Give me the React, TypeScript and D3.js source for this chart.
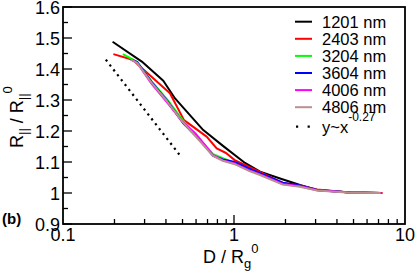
import React from 'react';
import * as d3 from 'd3';

const W = 415;
const H = 276;
const left = 63, right = 405, top = 7, bottom = 224;

// legend labels and colours
const seriesNames = ['1201 nm', '2403 nm', '3204 nm', '3604 nm', '4006 nm', '4806 nm'];
const seriesColors = ['#000000', '#ff0000', '#00ff00', '#0000ff', '#ff00ff', '#bc8f8f'];

// D / Rg0 and R|| / R||0
const x1201 = [0.195, 0.289, 0.386, 0.452, 0.661, 0.862, 1.16, 1.42, 1.86, 2.43, 3.06, 4.77, 7.3];
const y1201 = [1.488, 1.424, 1.362, 1.305, 1.203, 1.152, 1.097, 1.069, 1.047, 1.026, 1.01, 1.002, 1.0];

const x2403 = [0.197, 0.258, 0.276, 0.422, 0.51, 0.692, 0.792, 0.898, 1.01, 1.42, 1.93, 2.43, 3.06, 4.77, 7.4];
const y2403 = [1.448, 1.429, 1.413, 1.322, 1.235, 1.182, 1.144, 1.129, 1.106, 1.068, 1.032, 1.024, 1.011, 1.002, 1.0];

const x3204 = [0.224, 0.271, 0.33, 0.406, 0.503, 0.576, 0.754, 0.86, 1.01, 1.24, 1.42, 1.93, 2.43, 3.06, 4.77, 7.2];
const y3204 = [1.448, 1.423, 1.36, 1.302, 1.234, 1.196, 1.125, 1.112, 1.097, 1.075, 1.062, 1.03, 1.023, 1.01, 1.002, 1.0];

const x3604 = [0.25, 0.271, 0.33, 0.406, 0.503, 0.62, 0.754, 0.86, 1.01, 1.24, 1.42, 1.93, 2.43, 3.06, 4.77, 7.2];
const y3604 = [1.43, 1.423, 1.358, 1.298, 1.226, 1.176, 1.12, 1.108, 1.1, 1.078, 1.064, 1.033, 1.024, 1.01, 1.002, 1.0];

const x4006 = [0.25, 0.271, 0.33, 0.406, 0.503, 0.6, 0.754, 0.86, 1.01, 1.24, 1.42, 1.93, 2.43, 3.06, 4.77, 7.3];
const y4006 = [1.43, 1.42, 1.352, 1.292, 1.228, 1.19, 1.123, 1.105, 1.095, 1.072, 1.06, 1.029, 1.022, 1.009, 1.002, 1.0];

const x4806 = [0.25, 0.271, 0.33, 0.406, 0.503, 0.576, 0.754, 0.86, 1.01, 1.24, 1.42, 1.93, 2.43, 3.06, 4.77, 7.2];
const y4806 = [1.43, 1.42, 1.355, 1.296, 1.228, 1.192, 1.12, 1.104, 1.093, 1.07, 1.058, 1.027, 1.02, 1.008, 1.001, 1.0];

const seriesX = [x1201, x2403, x3204, x3604, x4006, x4806];
const seriesY = [y1201, y2403, y3204, y3604, y4006, y4806];

// guide line y ~ x^-0.27 (end points)
const guideX = [0.178, 0.49];
const guideY = [1.43, 1.117];

const xTickLabels = [0.1, 1, 10];
const yTickLabels = [0.9, 1, 1.1, 1.2, 1.3, 1.4, 1.5, 1.6];

const font = '"Liberation Sans", Arial, Helvetica, sans-serif';

export default function App() {
  const x = d3.scaleLog().domain([0.1, 10]).range([left, right]);
  const y = d3.scaleLinear().domain([0.9, 1.6]).range([bottom, top]);
  const line = d3.line<[number, number]>().x(d => x(d[0])).y(d => y(d[1]));

  const minorX: number[] = [];
  [0.1, 1].forEach(dec => {
    for (let k = 2; k <= 9; k++) minorX.push(dec * k);
  });
  const yTicks = d3.range(0, 15).map(i => 0.9 + i * 0.05);

  const legX = 295, legText = 322, legY0 = 21.7, legDy = 17.1;

  return (
    <svg width={W} height={H} style={{ position: 'absolute', left: 0, top: 0, background: '#fff' }}
      fontFamily={font}>
      <rect x={0} y={0} width={W} height={H} fill="#fff" />

      {/* curves */}
      {seriesX.map((xs, i) => (
        <path key={i} d={line(xs.map((v, j) => [v, seriesY[i][j]]) as [number, number][]) || ''}
          fill="none" stroke={seriesColors[i]} strokeWidth={2} strokeLinejoin="round" />
      ))}

      <path d={line(guideX.map((v, j) => [v, guideY[j]]) as [number, number][]) || ''}
        fill="none" stroke="#000" strokeWidth={2.2} strokeDasharray="2.2,4" />

      {/* frame */}
      <rect x={left} y={top} width={right - left} height={bottom - top} fill="none" stroke="#000" strokeWidth={1.8} />

      {/* y ticks */}
      {yTicks.map((t, i) => (
        <line key={i} x1={left} x2={left + (i % 2 === 0 ? 9 : 5)} y1={y(t)} y2={y(t)} stroke="#000" strokeWidth={1.3} />
      ))}
      {yTickLabels.map(t => (
        <text key={t} x={left - 3} y={y(t) + 6.5} fontSize={18} textAnchor="end">{String(t)}</text>
      ))}

      {/* x ticks */}
      {minorX.map((t, i) => (
        <line key={i} x1={x(t)} x2={x(t)} y1={bottom} y2={bottom - 5} stroke="#000" strokeWidth={1.3} />
      ))}
      <line x1={x(1)} x2={x(1)} y1={bottom} y2={bottom - 9} stroke="#000" strokeWidth={1.3} />
      {xTickLabels.map(t => (
        <text key={t} x={x(t)} y={bottom + 17} fontSize={18} textAnchor="middle">{String(t)}</text>
      ))}

      {/* axis titles */}
      <text x={203} y={263} fontSize={18}>
        D / R<tspan fontSize={13} dy={5}>g</tspan><tspan fontSize={13} dy={-15}>0</tspan>
      </text>
      <text transform="translate(23,148) rotate(-90)" fontSize={18}>
        R<tspan fontSize={13} dy={5}>||</tspan><tspan dy={-5}> / R</tspan><tspan fontSize={13} dy={5}>||</tspan><tspan fontSize={13} dy={-16}>0</tspan>
      </text>

      <text x={2} y={224} fontSize={15} fontWeight="bold">(b)</text>

      {/* legend */}
      {seriesNames.map((n, i) => (
        <g key={n}>
          <line x1={legX} x2={legX + 17} y1={legY0 + i * legDy} y2={legY0 + i * legDy}
            stroke={seriesColors[i]} strokeWidth={2} />
          <text x={legText} y={legY0 + i * legDy + 6.2} fontSize={16.5}>{n}</text>
        </g>
      ))}
      <line x1={legX + 1} x2={legX + 16} y1={126.7} y2={126.7} stroke="#000" strokeWidth={2.2} strokeDasharray="2.2,9.4" />
      <text x={legText} y={133} fontSize={16.5}>
        y~x<tspan fontSize={12} dy={-12}>-0.27</tspan>
      </text>
    </svg>
  );
}
